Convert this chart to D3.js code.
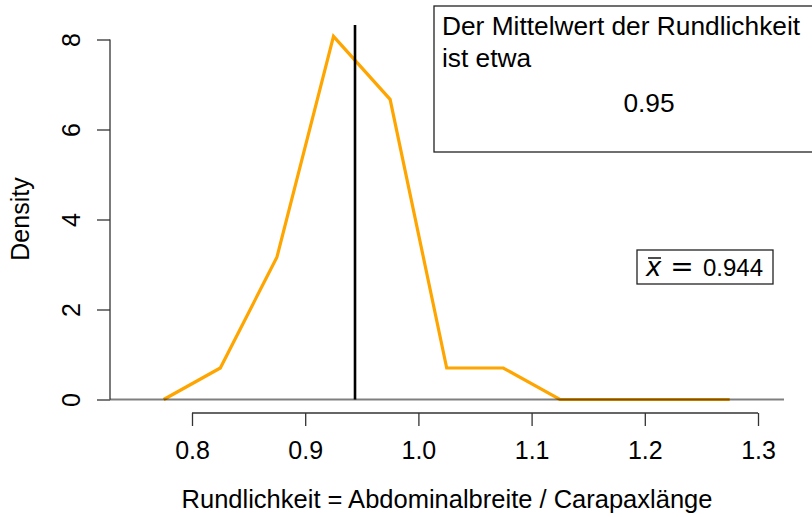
<!DOCTYPE html>
<html>
<head>
<meta charset="utf-8">
<script src="https://cdn.jsdelivr.net/npm/d3@7/dist/d3.min.js"></script>
<style>
  html, body { margin: 0; padding: 0; background: #fff; }
  svg { display: block; font-family: "Liberation Sans", Arial, Helvetica, sans-serif; }
</style>
</head>
<body>
<svg id="chart" width="812" height="517"></svg>
<script>
// Frequency polygon of the roundness ratio (bin midpoints, width 0.05)
const binMids = [0.775, 0.825, 0.875, 0.925, 0.975, 1.025, 1.075, 1.125, 1.175, 1.225, 1.275];
const densities = [0, 0.70, 3.16, 8.07, 6.67, 0.70, 0.70, 0, 0, 0, 0];
const xTicks = [0.8, 0.9, 1.0, 1.1, 1.2, 1.3];
const yTicks = [0, 2, 4, 6, 8];
const meanValue = 0.944;
const roundedMean = 0.95;
const xLabel = "Rundlichkeit = Abdominalbreite / Carapaxlänge";
const yLabel = "Density";
const legendTitle = ["Der Mittelwert der Rundlichkeit", "ist etwa"];

const svg = d3.select("#chart");
const fontSize = 25;
const legendFont = 26.3;

// plot region in pixels
const plotLeft = 110, plotRight = 784, plotTop = 25, plotBottom = 413;

const x = d3.scaleLinear().domain([0.8, 1.3]).range([192, 758]);
const y = d3.scaleLinear().domain([0, 8]).range([399.5, 39.5]);

// y axis (rotated labels)
const yAxis = d3.axisLeft(y).tickValues(yTicks).tickSize(13).tickPadding(0).tickFormat(d3.format("d"));
const gy = svg.append("g").attr("transform", `translate(${plotLeft},0)`).call(yAxis);
gy.select(".domain").attr("d", `M0,${y(yTicks[0])}V${y(yTicks[yTicks.length - 1])}`)
  .attr("stroke", "#333").attr("stroke-width", 1.3);
gy.selectAll(".tick line").attr("stroke", "#333").attr("stroke-width", 1.3);
gy.selectAll(".tick text")
  .attr("x", null).attr("dy", null)
  .attr("transform", "translate(-30,0) rotate(-90)")
  .attr("text-anchor", "middle")
  .attr("font-size", fontSize)
  .attr("font-family", "Liberation Sans, Arial, sans-serif")
  .attr("fill", "#000");

// x axis
const xAxis = d3.axisBottom(x).tickValues(xTicks).tickSize(13).tickPadding(15).tickFormat(d3.format(".1f"));
const gx = svg.append("g").attr("transform", `translate(0,${plotBottom})`).call(xAxis);
gx.select(".domain").attr("d", `M${x(xTicks[0])},0H${x(xTicks[xTicks.length - 1])}`)
  .attr("stroke", "#333").attr("stroke-width", 1.3);
gx.selectAll(".tick line").attr("stroke", "#333").attr("stroke-width", 1.3);
gx.selectAll(".tick text")
  .attr("font-size", fontSize)
  .attr("font-family", "Liberation Sans, Arial, sans-serif")
  .attr("fill", "#000");

// axis titles
svg.append("text")
  .attr("x", (plotLeft + plotRight) / 2).attr("y", 508)
  .attr("text-anchor", "middle").attr("font-size", 25.5)
  .text(xLabel);
svg.append("text")
  .attr("transform", `translate(29,${(plotTop + plotBottom) / 2}) rotate(-90)`)
  .attr("text-anchor", "middle").attr("font-size", fontSize)
  .text(yLabel);

// polygon
const line = d3.line().x((d, i) => x(binMids[i])).y(d => y(d));
svg.append("path")
  .datum(densities)
  .attr("d", line)
  .attr("fill", "none")
  .attr("stroke", "#FFA500")
  .attr("stroke-width", 3.2)
  .attr("stroke-linejoin", "miter");

// baseline at zero
svg.append("line")
  .attr("x1", plotLeft).attr("x2", plotRight)
  .attr("y1", y(0)).attr("y2", y(0))
  .attr("stroke", "rgba(0,0,0,0.5)").attr("stroke-width", 2);

// mean marker
svg.append("line")
  .attr("x1", x(meanValue)).attr("x2", x(meanValue))
  .attr("y1", y(0)).attr("y2", plotTop)
  .attr("stroke", "#000").attr("stroke-width", 2.6);

// legend with the rounded mean
const lg = svg.append("g");
lg.append("rect")
  .attr("x", 434).attr("y", 6).attr("width", 430).attr("height", 146)
  .attr("fill", "#fff").attr("stroke", "#222").attr("stroke-width", 1.3);
legendTitle.forEach((t, i) => {
  lg.append("text").attr("x", 442).attr("y", 35 + i * 32)
    .attr("font-size", legendFont).text(t);
});
lg.append("text").attr("x", 649).attr("y", 112)
  .attr("text-anchor", "middle").attr("font-size", legendFont)
  .text(roundedMean.toFixed(2));

// legend with the exact mean: x-bar = value
const lg2 = svg.append("g");
lg2.append("rect")
  .attr("x", 637).attr("y", 250).attr("width", 136).attr("height", 34)
  .attr("fill", "#fff").attr("stroke", "#222").attr("stroke-width", 1.3);
lg2.append("text").attr("x", 646).attr("y", 276)
  .attr("font-size", 26).attr("font-style", "italic")
  .attr("font-family", "DejaVu Sans, sans-serif").text("x");
lg2.append("line").attr("x1", 648).attr("x2", 661).attr("y1", 258).attr("y2", 258)
  .attr("stroke", "#000").attr("stroke-width", 1.4);
lg2.append("text").attr("x", 682).attr("y", 276)
  .attr("text-anchor", "middle").attr("font-size", 28)
  .attr("font-family", "DejaVu Sans, sans-serif").text("=");
lg2.append("text").attr("x", 703).attr("y", 276)
  .attr("font-size", 24).text(meanValue.toFixed(3));
</script>
</body>
</html>
